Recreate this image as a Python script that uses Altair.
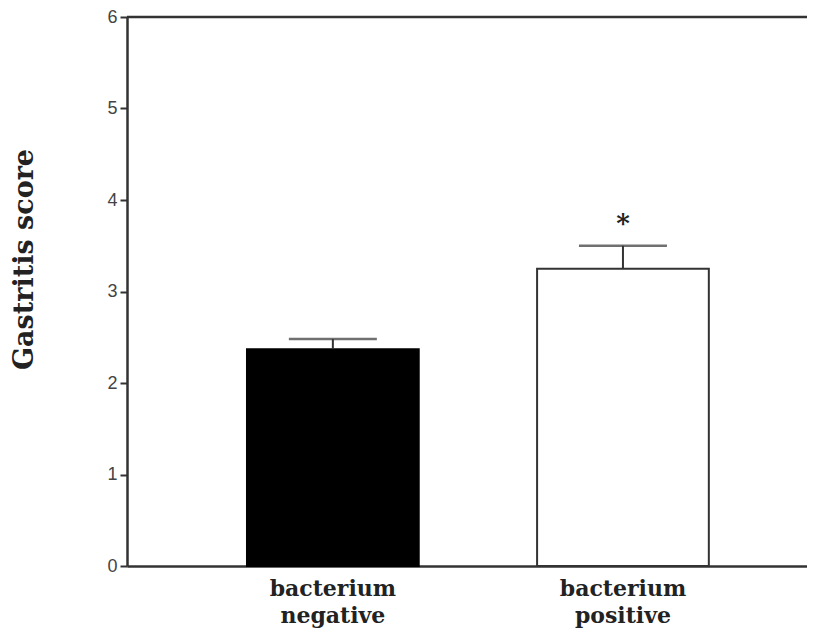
import altair as alt
import pandas as pd

categories = ["bacterium negative", "bacterium positive"]
means = [2.37, 3.25]
upper = [2.48, 3.50]
fills = ["#000000", "#ffffff"]
strokes = ["#000000", "#333333"]
sig = ["", "*"]
y_ticks = [0, 1, 2, 3, 4, 5, 6]

df = pd.DataFrame({"group": categories, "mean": means, "upper": upper,
                   "fill": fills, "stroke": strokes, "sig": sig})

W, H = 680, 549
AX = "#333333"

xs = alt.Scale(paddingInner=0.408, paddingOuter=0.376, align=0.55)
ys = alt.Scale(domain=[0, 6], nice=False)

x_axis = alt.Axis(labelAngle=0, labelExpr="split(datum.label, ' ')",
                  labelFont="DejaVu Serif", labelFontWeight="bold",
                  labelFontSize=22, labelColor="#222222",
                  labelLineHeight=27, labelPadding=12, ticks=False,
                  domainColor=AX, domainWidth=2.5)

y_axis = alt.Axis(values=y_ticks, format="d", grid=False,
                  tickSize=7, tickWidth=2, tickColor=AX,
                  domainColor=AX, domainWidth=2.5,
                  labelFont="Liberation Sans", labelFontSize=18,
                  labelColor="#444444", labelPadding=3,
                  titleFont="DejaVu Serif", titleFontWeight="bold",
                  titleFontSize=27, titleColor="#222222",
                  titleAngle=270, titleX=-103, titleY=242,
                  titleAlign="center", titleBaseline="middle")

YT = "Gastritis score"


def xenc():
    return alt.X("group:N", sort=categories, title=None, scale=xs, axis=x_axis)


def yenc(field):
    return alt.Y(field, scale=ys, title=YT, axis=y_axis)


base = alt.Chart(df)

bars = base.mark_bar(strokeWidth=2).encode(
    x=xenc(), y=yenc("mean:Q"),
    fill=alt.Fill("fill:N", scale=None),
    stroke=alt.Stroke("stroke:N", scale=None))

err = base.mark_rule(color=AX, strokeWidth=2).encode(
    x=xenc(), y=yenc("mean:Q"), y2="upper:Q")

caps = base.mark_tick(color=AX, thickness=2.5, size=88).encode(
    x=xenc(), y=yenc("upper:Q"))

stars = base.mark_text(font="DejaVu Serif", fontWeight="bold", fontSize=26,
                       baseline="middle", dy=-22, color="#222222").encode(
    x=xenc(), y=yenc("upper:Q"), text="sig:N")

top = alt.Chart(pd.DataFrame({"v": [6]})).mark_rule(color=AX, strokeWidth=2.5).encode(
    y=yenc("v:Q"), x=alt.value(0), x2=alt.value(W))

chart = alt.layer(bars, err, caps, stars, top).properties(
    width=W, height=H,
    autosize=alt.AutoSizeParams(type="none"),
    padding={"left": 119, "top": 9, "right": 0, "bottom": 64},
    background="white",
).configure_view(stroke=None)

chart.save("out.html", embed_options={"renderer": "svg", "actions": False})
